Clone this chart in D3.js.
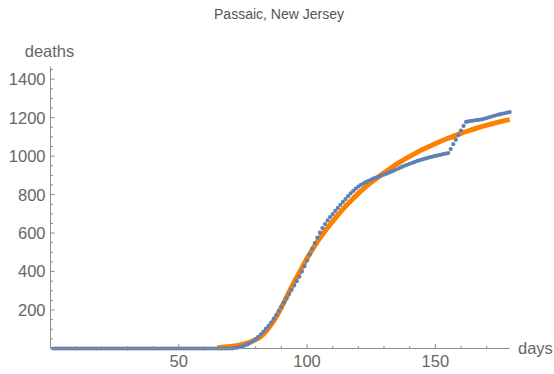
<!DOCTYPE html>
<html>
<head>
<meta charset="utf-8">
<script src="https://cdn.jsdelivr.net/npm/d3@7"></script>
<style>
  html, body { margin: 0; padding: 0; background: #fff; }
  svg { display: block; }
  text { font-family: "Liberation Sans", Arial, sans-serif; }
</style>
</head>
<body>
<div id="chart"></div>
<script>
// ---- data ----
const title = "Passaic, New Jersey";
const xLabel = "days";
const yLabel = "deaths";

// observed cumulative deaths, days 1..179
const deathDays = d3.range(1, 180);
const deaths = [
  0,0,0,0,0,0,0,0,0,0, 0,0,0,0,0,0,0,0,0,0,
  0,0,0,0,0,0,0,0,0,0, 0,0,0,0,0,0,0,0,0,0,
  0,0,0,0,0,0,0,0,0,0, 0,0,0,0,0,0,0,0,0,0,
  0,0,0,0,0,0,0,0,0,0,
  1,3,5,8,12,17,23,30,39,49,
  61,74,88,103,118,135,154,174,195,216,
  238,261,283,305,328,350,373,400,428,458,
  488,518,548,576,602,626,647,666,683,699,
  715,731,747,762,777,792,806,819,831,842,
  851,859,866,872,878,884,889,894,899,904,
  909,914,920,926,932,938,944,950,955,960,
  965,970,975,979,983,987,991,995,998,1001,
  1004,1007,1010,1013,1016,1037,1062,1085,1109,1133,
  1157,1178,1181,1183,1185,1187,1189,1191,1194,1198,
  1202,1206,1210,1214,1217,1220,1223,1226,1229
];

// fitted curve
const fitDays   = [65,70,73,76,79,82,85,88,91,94,97,100,103,106,109,112,115,118,121,124,127,130,133,136,139,142,145,148,151,154,157,160,163,166,169,172,175,179];
const fitValues = [4,10,16,25,40,62,105,165,240,320,395,468,535,593,645,694,739,780,818,853,884,913,941,967,991,1013,1034,1053,1071,1088,1103,1118,1132,1145,1157,1168,1178,1190];

const xMajorTicks = [50, 100, 150];
const yMajorTicks = [200, 400, 600, 800, 1000, 1200, 1400];

// ---- drawing ----
const W = 554, H = 374;
const svg = d3.select("#chart").append("svg").attr("width", W).attr("height", H);

const x = d3.scaleLinear().domain([0, 179]).range([50.5, 509.7]);
const y = d3.scaleLinear().domain([0, 1465]).range([348.5, 66.7]);

const axisColor = "#8c8c8c";
const textColor = "#666666";

// title
svg.append("text").attr("x", 279).attr("y", 19).attr("text-anchor", "middle")
  .attr("font-size", 14).attr("fill", "#555").text(title);

// fit curve
const fitData = fitDays.map((d, i) => [d, fitValues[i]]);
svg.append("path").datum(fitData)
  .attr("fill", "none").attr("stroke", "#ff8000").attr("stroke-width", 5)
  .attr("d", d3.line().x(d => x(d[0])).y(d => y(d[1])).curve(d3.curveMonotoneX));

// data points
svg.append("g").selectAll("circle").data(deathDays.map((d, i) => [d, deaths[i]]))
  .join("circle")
  .attr("cx", d => x(d[0])).attr("cy", d => y(d[1])).attr("r", 2.1)
  .attr("fill", "#5e81b5");

// x axis
const gx = svg.append("g");
gx.append("line").attr("x1", x(0)).attr("x2", x(179)).attr("y1", y(0)).attr("y2", y(0))
  .attr("stroke", axisColor).attr("stroke-width", 1);
gx.selectAll("line.minor").data(d3.range(10, 179, 10)).join("line")
  .attr("class", "minor")
  .attr("x1", d => x(d)).attr("x2", d => x(d))
  .attr("y1", y(0)).attr("y2", d => y(0) - (xMajorTicks.includes(d) ? 4.5 : 2.5))
  .attr("stroke", axisColor);
gx.selectAll("text").data(xMajorTicks).join("text")
  .attr("x", d => x(d)).attr("y", 367).attr("text-anchor", "middle")
  .attr("font-size", 16.5).attr("fill", textColor).text(d => d);
svg.append("text").attr("x", 518).attr("y", 353.5).attr("font-size", 16.5)
  .attr("fill", textColor).text(xLabel);

// y axis
const gy = svg.append("g");
gy.append("line").attr("x1", x(0)).attr("x2", x(0)).attr("y1", y(0)).attr("y2", y(1465))
  .attr("stroke", axisColor).attr("stroke-width", 1);
gy.selectAll("line.tick").data(d3.range(50, 1465, 50)).join("line")
  .attr("class", "tick")
  .attr("x1", x(0)).attr("x2", d => x(0) + (yMajorTicks.includes(d) ? 4 : 2.5))
  .attr("y1", d => y(d)).attr("y2", d => y(d))
  .attr("stroke", axisColor);
gy.selectAll("text").data(yMajorTicks).join("text")
  .attr("x", 45.5).attr("y", d => y(d)).attr("dy", "0.36em").attr("text-anchor", "end")
  .attr("font-size", 16.5).attr("fill", textColor).text(d => d);
svg.append("text").attr("x", 49.5).attr("y", 56.5).attr("text-anchor", "middle")
  .attr("font-size", 16.5).attr("fill", textColor).text(yLabel);
</script>
</body>
</html>
